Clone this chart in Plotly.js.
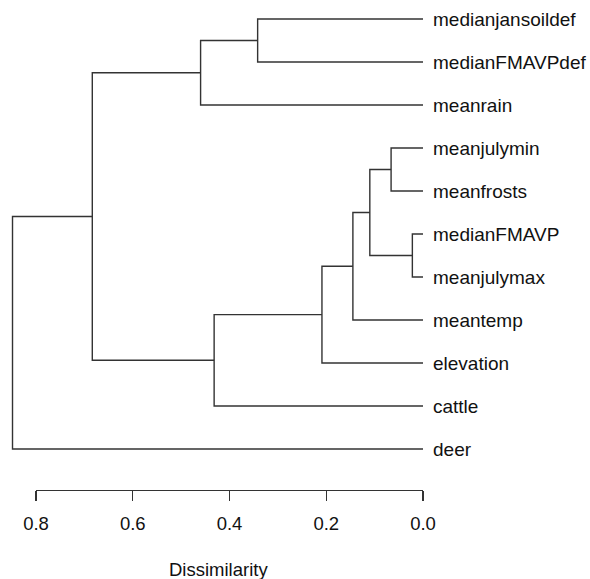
<!DOCTYPE html>
<html>
<head>
<meta charset="utf-8">
<script src="https://cdn.plot.ly/plotly-3.0.1.min.js"></script>
<style>html,body{margin:0;padding:0;background:#fff;}#chart{width:590px;height:579px;}</style>
</head>
<body>
<div id="chart"></div>
<script>
// Leaves, top to bottom
const leaves = ['medianjansoildef','medianFMAVPdef','meanrain','meanjulymin','meanfrosts','medianFMAVP','meanjulymax','meantemp','elevation','cattle','deer'];
// Merge steps (hclust style): children and merge height (dissimilarity)
const mergeA = ['medianFMAVP','meanjulymin','n2','n3','n4','medianjansoildef','n5','n6','n8','n9'];
const mergeB = ['meanjulymax','meanfrosts','n1','meantemp','elevation','medianFMAVPdef','cattle','meanrain','n7','deer'];
const mergeHeight = [0.022, 0.066, 0.110, 0.145, 0.209, 0.342, 0.432, 0.460, 0.684, 0.849];
// Axis ticks
const tickValues = [0.8, 0.6, 0.4, 0.2, 0.0];
const tickLabels = ['0.8', '0.6', '0.4', '0.2', '0.0'];
const axisTitle = 'Dissimilarity';

const nodeY = {}, nodeH = {};
leaves.forEach((l, i) => { nodeY[l] = leaves.length - i; nodeH[l] = 0; });
const sx = [], sy = [];
mergeHeight.forEach((h, k) => {
  const a = mergeA[k], b = mergeB[k], id = 'n' + (k + 1);
  nodeY[id] = (nodeY[a] + nodeY[b]) / 2; nodeH[id] = h;
  sx.push(nodeH[a], h, h, nodeH[b], null);
  sy.push(nodeY[a], nodeY[a], nodeY[b], nodeY[b], null);
});

const lineColor = '#333333';
const labelFont = {family: 'Liberation Sans, Arial, sans-serif', size: 19, color: '#111'};
const axisFont = {family: 'Liberation Sans, Arial, sans-serif', size: 18.5, color: '#111'};

const traces = [
  {x: sx, y: sy, mode: 'lines', line: {color: lineColor, width: 1.4}, hoverinfo: 'skip', xaxis: 'x', yaxis: 'y', showlegend: false},
  {x: [0.8, 0], y: [null, null], mode: 'lines', xaxis: 'x2', yaxis: 'y', hoverinfo: 'skip', showlegend: false}
];

const annotations = leaves.map(l => ({
  x: 0, y: nodeY[l], xref: 'x', yref: 'y', text: l, showarrow: false,
  xanchor: 'left', yanchor: 'middle', xshift: 8, font: labelFont
}));
annotations.push({x: 218/590, y: 0, xref: 'paper', yref: 'paper', yshift: -79, text: axisTitle,
  showarrow: false, xanchor: 'center', yanchor: 'middle', font: axisFont});

const layout = {
  width: 590, height: 579,
  margin: {l: 0, r: 0, t: 0, b: 89, pad: 0},
  paper_bgcolor: '#fff', plot_bgcolor: 'rgba(0,0,0,0)',
  showlegend: false,
  xaxis: {domain: [0, 1], range: [423/483.5, (423-590)/483.5], visible: false, fixedrange: true},
  xaxis2: {domain: [36/590, 423/590], range: [0.8, 0], anchor: 'y', showline: true, linecolor: lineColor, linewidth: 1.2,
    ticks: 'outside', ticklen: 10, tickcolor: lineColor, tickwidth: 1.2, tickvals: tickValues, ticktext: tickLabels,
    tickfont: axisFont, showgrid: false, zeroline: false, ticklabelstandoff: 7, fixedrange: true},
  yaxis: {domain: [0, 1], range: [0.0465, 11.442], visible: false, fixedrange: true},
  annotations: annotations
};

Plotly.newPlot('chart', traces, layout, {displayModeBar: false, staticPlot: true});
</script>
</body>
</html>
